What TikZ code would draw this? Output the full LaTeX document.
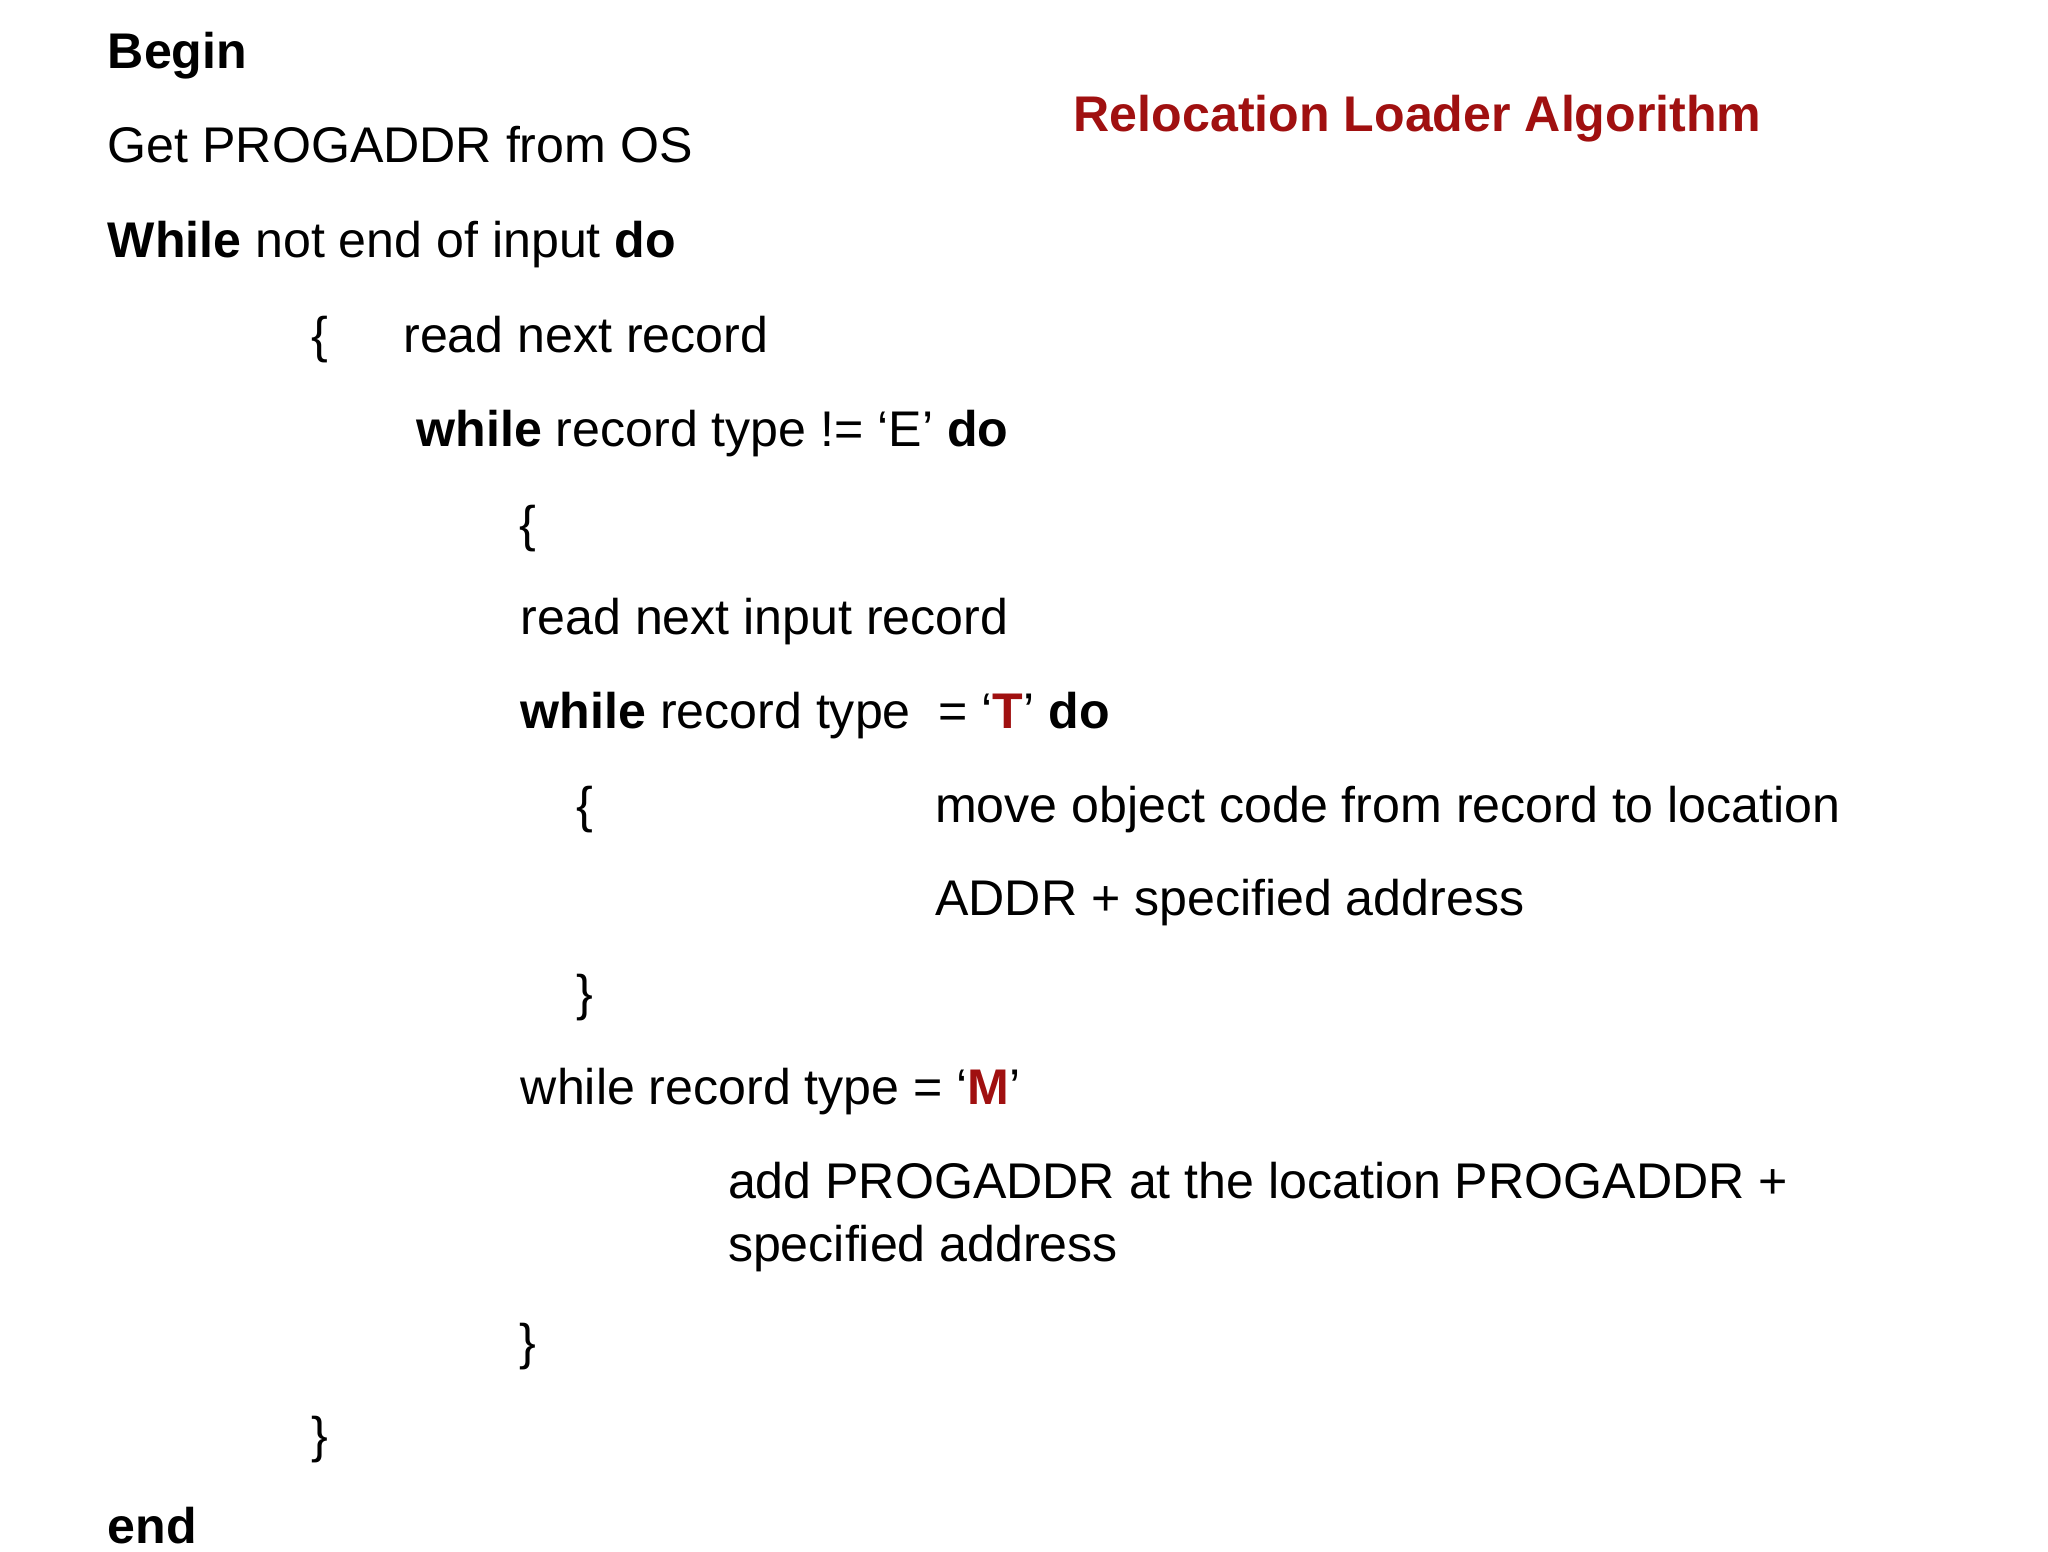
\documentclass[tikz,border=0pt]{standalone}
\usepackage{fontspec}
\setmainfont{Liberation Sans}
\definecolor{dred}{HTML}{A01010}
\begin{document}
\begin{tikzpicture}[x=0.01cm,y=-0.01cm,
  t/.style={anchor=base west,inner sep=0pt,font=\fontsize{10.8}{13}\selectfont}]
\useasboundingbox (0,0) rectangle (1552,1176);
\node[t] (l1) at (81,52) {\textbf{Begin}};
\node[t,text=dred] (title) at (813,100) {\textbf{Relocation Loader Algorithm}};
\node[t] (l2) at (81,123) {Get PROGADDR from OS};
\node[t] (l3) at (81,195) {\textbf{While} not end of input \textbf{do}};
\node[t] (l4a) at (235,267) {\{};
\node[t] (l4) at (305,267) {read next record};
\node[t] (l5) at (315,338) {\textbf{while} record type != ‘E’ \textbf{do}};
\node[t] (l6) at (393,410) {\{};
\node[t] (l7) at (394,481) {read next input record};
\node[t] (l8) at (394,552) {\textbf{while} record type \ = ‘\textcolor{dred}{\textbf{T}}’ \textbf{do}};
\node[t] (l9a) at (436,623) {\{};
\node[t] (l9) at (708,623) {move object code from record to location};
\node[t] (l10) at (708,694) {ADDR + specified address};
\node[t] (l11) at (436,766) {\}};
\node[t] (l12) at (394,837) {while record type = ‘\textcolor{dred}{\textbf{M}}’};
\node[t] (l13) at (551,908) {add PROGADDR at the location PROGADDR +};
\node[t] (l14) at (551,956) {specified address};
\node[t] (l15) at (393,1030) {\}};
\node[t] (l16) at (235,1101) {\}};
\node[t] (l17) at (81,1170) {\textbf{end}};
\end{tikzpicture}
\end{document}
